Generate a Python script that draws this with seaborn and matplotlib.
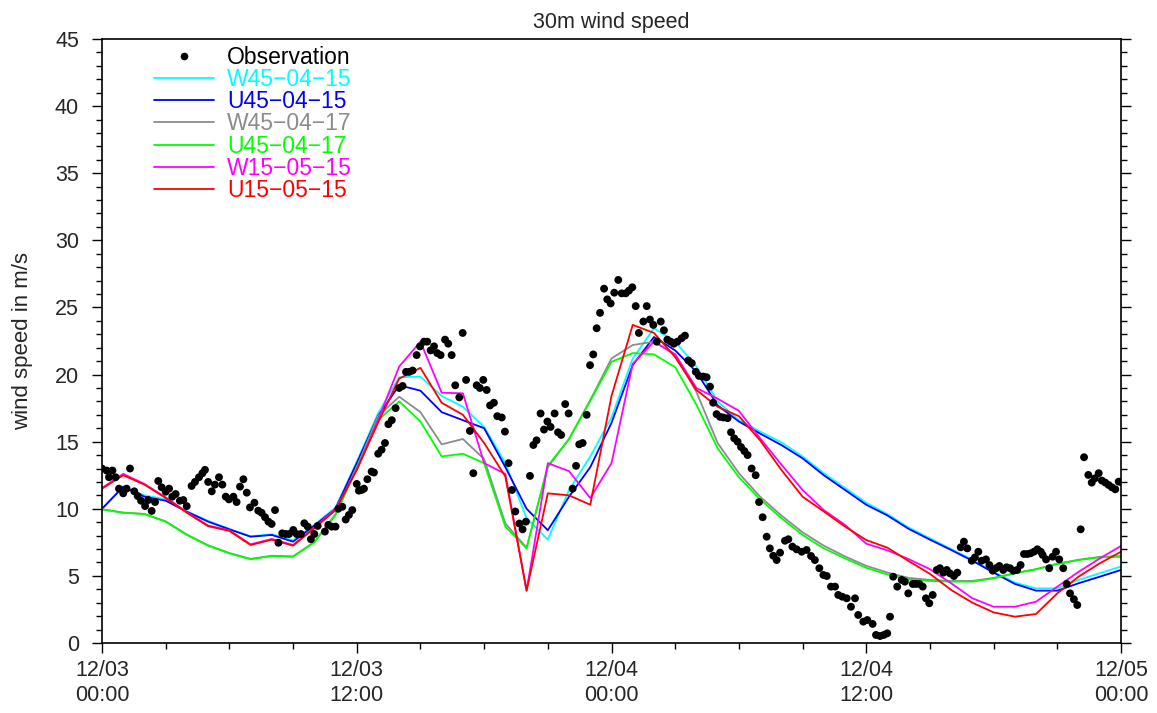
import numpy as np
import pandas as pd
import matplotlib
matplotlib.use("Agg")
import matplotlib.pyplot as plt
from matplotlib.lines import Line2D
from matplotlib.ticker import MultipleLocator
import seaborn as sns

# ---------------- data ----------------
model_hours = list(range(49))

w45_04_15 = [10.0, 11.6, 11.0, 10.7, 9.8, 9.1, 8.5, 7.95, 8.1, 7.65, 8.8, 10.1, 13.5,
             17.1, 19.8, 19.85, 18.4, 17.6, 16.1, 13.4, 9.3, 7.7, 11.4, 13.9, 16.8,
             21.2, 23.45, 22.45, 20.6, 18.0, 16.6, 15.75, 14.95, 13.9, 12.65, 11.55, 10.45,
             9.6, 8.6, 7.8, 7.0, 6.2, 5.3, 4.5, 4.07, 4.07, 4.7, 5.2, 5.7]
u45_04_15 = [10.0, 11.65, 10.9, 10.6, 9.78, 9.04, 8.47, 7.92, 8.05, 7.55, 8.74, 10.0, 13.4,
             16.9, 19.2, 18.8, 17.2, 16.6, 16.0, 13.1, 10.0, 8.4, 10.9, 13.1, 16.4,
             20.7, 22.8, 21.8, 20.2, 17.7, 16.5, 15.6, 14.75, 13.76, 12.5, 11.4, 10.3,
             9.5, 8.5, 7.7, 6.93, 6.13, 5.24, 4.4, 3.9, 3.9, 4.45, 4.94, 5.44]
w45_04_17 = [9.96, 9.72, 9.62, 9.06, 8.08, 7.28, 6.7, 6.27, 6.5, 6.45, 7.52, 9.6, 13.1,
             16.9, 18.35, 17.2, 14.8, 15.2, 13.7, 8.9, 7.1, 13.1, 15.2, 18.1, 21.2,
             22.2, 22.45, 21.5, 18.7, 14.9, 12.65, 10.9, 9.5, 8.25, 7.25, 6.45, 5.75,
             5.25, 4.85, 4.7, 4.62, 4.62, 4.85, 5.2, 5.5, 5.9, 6.2, 6.42, 6.47]
u45_04_17 = [9.96, 9.7, 9.6, 9.04, 8.05, 7.25, 6.68, 6.24, 6.48, 6.43, 7.5, 9.54, 13.0,
             16.6, 18.0, 16.5, 13.9, 14.1, 13.4, 8.67, 7.05, 13.2, 15.2, 18.05, 20.95,
             21.6, 21.5, 20.55, 17.75, 14.5, 12.35, 10.7, 9.3, 8.05, 7.05, 6.3, 5.6,
             5.1, 4.73, 4.62, 4.57, 4.57, 4.82, 5.19, 5.49, 5.89, 6.18, 6.38, 6.43]
w15_05_15 = [11.55, 12.6, 11.85, 10.85, 9.75, 8.75, 8.4, 7.35, 7.75, 7.3, 8.6, 10.0, 12.9,
             16.6, 20.6, 22.45, 18.65, 18.6, 13.4, 12.6, 3.9, 13.4, 12.8, 10.8, 13.4,
             20.8, 22.45, 21.5, 19.0, 18.2, 17.3, 15.25, 13.3, 11.4, 9.9, 8.8, 7.4,
             6.9, 6.25, 5.5, 4.45, 3.33, 2.7, 2.7, 3.08, 4.2, 5.3, 6.3, 7.23]
u15_05_15 = [11.5, 12.5, 11.8, 10.8, 9.7, 8.7, 8.35, 7.3, 7.7, 7.25, 8.55, 9.9, 12.9,
             16.4, 19.7, 20.5, 17.9, 17.0, 14.9, 12.4, 3.9, 11.15, 11.0, 10.3, 18.4,
             23.7, 23.1, 21.3, 18.85, 17.6, 16.9, 15.1, 12.9, 10.9, 9.8, 8.67, 7.67,
             7.1, 6.1, 5.15, 3.95, 3.0, 2.28, 1.96, 2.16, 3.7, 4.94, 5.94, 6.8]

obs_hours = [0.0, 0.22, 0.33, 0.49, 0.64, 0.8, 1.0, 1.16, 1.32, 1.52, 1.68, 1.84, 2.03, 2.18,
             2.34, 2.5, 2.65, 2.81, 3.0, 3.16, 3.31, 3.47, 3.67, 3.83, 3.99, 4.22, 4.38, 4.57,
             4.73, 4.85, 5.0, 5.17, 5.32, 5.51, 5.67, 5.83, 5.98, 6.19, 6.34, 6.5, 6.66, 6.82,
             6.97, 7.18, 7.36, 7.52, 7.68, 7.84, 7.99, 8.15, 8.31, 8.49, 8.65, 8.81, 9.01,
             9.17, 9.37, 9.53, 9.69, 9.84, 10.0, 10.16, 10.5, 10.66, 10.82, 11.0, 11.13,
             11.32, 11.48, 11.63, 11.79, 12.0, 12.1, 12.23, 12.34, 12.5, 12.7, 12.81, 13.01,
             13.17, 13.33, 13.49, 13.65, 13.83, 14.0, 14.16, 14.32, 14.47, 14.63, 14.82,
             14.98, 15.17, 15.32, 15.48, 15.64, 15.79, 15.95, 16.16, 16.31, 16.47, 16.64,
             16.83, 16.99, 17.15, 17.33, 17.49, 17.65, 17.8, 17.96, 18.12, 18.28, 18.46,
             18.62, 18.83, 18.98, 19.15, 19.31, 19.47, 19.66, 19.81, 19.97, 20.16, 20.32,
             20.47, 20.66, 20.82, 20.98, 21.13, 21.32, 21.48, 21.63, 21.82, 21.98, 22.17,
             22.33, 22.48, 22.64, 22.83, 22.99, 23.14, 23.3, 23.46, 23.65, 23.8, 23.96,
             24.13, 24.32, 24.48, 24.67, 24.82, 24.98, 25.14, 25.29, 25.5, 25.66, 25.81,
             25.97, 26.13, 26.32, 26.47, 26.63, 26.79, 26.94, 27.1, 27.3, 27.46, 27.62,
             27.78, 27.97, 28.12, 28.32, 28.48, 28.64, 28.79, 28.95, 29.11, 29.27, 29.47,
             29.63, 29.78, 29.94, 30.1, 30.26, 30.41, 30.6, 30.79, 30.95, 31.12, 31.31,
             31.46, 31.62, 31.78, 31.94, 32.17, 32.33, 32.52, 32.72, 32.96, 33.19, 33.4,
             33.58, 33.79, 33.98, 34.14, 34.34, 34.53, 34.68, 34.87, 35.08, 35.28, 35.47,
             35.62, 35.86, 36.05, 36.3, 36.46, 36.65, 36.83, 36.99, 37.12, 37.27, 37.46,
             37.67, 37.82, 37.98, 38.19, 38.34, 38.5, 38.66, 38.81, 38.97, 39.13, 39.32,
             39.47, 39.63, 39.79, 39.94, 40.13, 40.29, 40.45, 40.6, 40.76, 40.97, 41.12,
             41.28, 41.44, 41.64, 41.8, 41.96, 42.11, 42.27, 42.45, 42.61, 42.77, 42.93,
             43.11, 43.27, 43.43, 43.59, 43.74, 43.9, 44.06, 44.22, 44.31, 44.47, 44.62,
             44.78, 44.94, 45.09, 45.28, 45.44, 45.6, 45.78, 45.94, 46.1, 46.26, 46.46,
             46.62, 46.77, 46.95, 47.1, 47.26, 47.42, 47.57, 47.73, 47.89, 48.0]
obs_speed = [13.0, 12.85, 12.35, 12.85, 12.35, 11.5, 11.15, 11.5, 13.0, 11.3, 10.95, 10.6, 10.2,
             10.65, 9.84, 10.5, 12.07, 11.6, 11.27, 11.5, 10.9, 11.1, 10.6, 10.65, 10.2, 11.7,
             12.0, 12.35, 12.65, 12.9, 12.0, 11.3, 11.8, 12.35, 11.8, 10.9, 10.7, 10.9, 10.5,
             11.65, 12.2, 11.2, 10.1, 10.45, 9.86, 9.7, 9.37, 9.04, 8.87, 9.9, 7.47, 8.17,
             8.12, 8.12, 8.42, 8.12, 8.12, 8.92, 8.67, 7.73, 8.12, 8.72, 8.3, 8.8, 8.67, 8.67,
             10.0, 10.15, 9.2, 9.54, 9.9, 11.85, 11.35, 11.4, 11.5, 12.2, 12.77, 12.7, 14.1,
             14.4, 14.9, 16.3, 16.6, 17.5, 19.0, 19.15, 20.2, 20.2, 20.3, 21.45, 22.1, 22.45,
             22.45, 21.8, 22.1, 21.6, 21.45, 22.6, 22.3, 21.45, 19.2, 18.3, 23.1, 19.6, 15.8,
             12.65, 19.2, 19.0, 19.6, 18.85, 17.7, 17.9, 16.9, 16.8, 15.75, 13.4, 11.4, 9.8,
             8.9, 8.47, 9.04, 12.45, 14.75, 15.1, 17.1, 15.9, 16.5, 16.1, 17.1, 15.7, 15.5,
             17.8, 17.1, 11.5, 13.2, 14.8, 14.9, 17.0, 20.7, 21.5, 23.45, 24.6, 26.4, 25.6,
             25.3, 26.1, 27.05, 26.05, 26.05, 26.25, 26.5, 25.1, 23.1, 23.95, 25.1, 24.1,
             23.7, 22.45, 23.95, 23.3, 22.6, 22.45, 22.3, 22.45, 22.7, 22.9, 21.05, 20.85,
             20.2, 19.9, 19.85, 19.8, 19.1, 17.9, 17.05, 16.85, 16.8, 16.75, 15.7, 15.25,
             15.0, 14.6, 14.3, 14.0, 13.0, 12.5, 10.5, 9.37, 7.92, 7.05, 6.5, 6.18, 6.73,
             7.62, 7.73, 7.18, 6.98, 6.8, 6.93, 6.48, 6.18, 5.57, 5.07, 4.99, 4.2, 4.2, 3.58,
             3.45, 3.33, 2.7, 3.33, 2.09, 1.59, 1.71, 1.42, 0.6, 0.52, 0.6, 0.72, 1.96, 4.94,
             4.2, 4.7, 4.57, 3.7, 4.4, 4.4, 4.4, 4.2, 3.33, 2.96, 3.58, 5.44, 5.57, 5.24,
             5.44, 5.19, 4.99, 5.24, 7.13, 7.55, 7.05, 6.13, 6.38, 6.8, 6.13, 6.23, 5.81,
             5.39, 5.57, 5.74, 5.44, 5.64, 5.57, 5.39, 5.44, 5.81, 6.63, 6.63, 6.68, 6.8,
             6.98, 6.8, 6.56, 6.23, 5.57, 6.43, 6.8, 6.23, 5.57, 4.4, 3.7, 3.26, 2.83, 8.47,
             13.84, 12.52, 11.95, 12.27, 12.65, 12.1, 11.95, 11.77, 11.6, 11.45, 12.02, 12.0]

run_names = ["W45\u221204\u221215", "U45\u221204\u221215", "W45\u221204\u221217",
             "U45\u221204\u221217", "W15\u221205\u221215", "U15\u221205\u221215"]
run_values = [w45_04_15, u45_04_15, w45_04_17, u45_04_17, w15_05_15, u15_05_15]
run_colors = ["#00ffff", "#0000ff", "#8c8c8c", "#00ff00", "#ff00ff", "#ff0000"]

tick_hours = [0, 12, 24, 36, 48]
tick_labels = ["12/03\n00:00", "12/03\n12:00", "12/04\n00:00", "12/04\n12:00", "12/05\n00:00"]

# ---------------- figure ----------------
sns.set_theme(style="ticks")
plt.rcParams["font.family"] = ["Liberation Sans", "DejaVu Sans"]
plt.rcParams["axes.unicode_minus"] = True

fig = plt.figure(figsize=(11.57, 7.13), dpi=100)
ax = fig.add_axes([102 / 1157, 1 - 643 / 713, (1121 - 102) / 1157, (643 - 39) / 713])

model_df = pd.concat(
    [pd.DataFrame({"hour": model_hours, "speed": vals, "run": name})
     for name, vals in zip(run_names, run_values)],
    ignore_index=True)
palette = dict(zip(run_names, run_colors))

sns.lineplot(data=model_df, x="hour", y="speed", hue="run", hue_order=run_names,
             palette=palette, linewidth=1.3, sort=False, estimator=None,
             legend=False, ax=ax, zorder=2)

obs_df = pd.DataFrame({"hour": obs_hours, "speed": obs_speed})
sns.scatterplot(data=obs_df, x="hour", y="speed", color="black", s=32,
                edgecolor="none", legend=False, ax=ax, zorder=3)

ax.set_xlim(0, 48)
ax.set_ylim(0, 45)
ax.set_xticks(tick_hours)
ax.set_xticklabels(tick_labels, fontsize=15.5, linespacing=1.2)
ax.xaxis.set_minor_locator(MultipleLocator(3))
ax.yaxis.set_major_locator(MultipleLocator(5))
ax.yaxis.set_minor_locator(MultipleLocator(1))
ax.tick_params(axis="y", which="both", left=True, right=True, direction="out",
               labelsize=15.5, pad=9)
ax.tick_params(axis="x", which="both", bottom=True, top=False, direction="out",
               labelsize=15.5, pad=5)
ax.tick_params(which="major", length=7.5, width=1.0, color="black")
ax.tick_params(which="minor", length=4.3, width=1.0, color="black")
for sp in ax.spines.values():
    sp.set_visible(True)
    sp.set_linewidth(1.2)
    sp.set_color("black")

ax.set_xlabel("")
ax.set_ylabel("wind speed in m/s", fontsize=16, labelpad=16)
ax.set_title("30m wind speed", fontsize=15.5, pad=8)

handles = [Line2D([], [], marker="o", color="black", linestyle="none", markersize=4.5)]
handles += [Line2D([], [], color=c, linewidth=1.3) for c in run_colors]
labels = ["Observation"] + run_names
leg = ax.legend(handles, labels, loc="upper left", bbox_to_anchor=(0.042, 1.004),
                frameon=False, fontsize=16.5, handlelength=2.6, handletextpad=0.6,
                labelspacing=-0.035, borderaxespad=0.0)
for txt, c in zip(leg.get_texts(), ["black"] + run_colors):
    txt.set_color(c)

fig.savefig("out.png", dpi=100)
